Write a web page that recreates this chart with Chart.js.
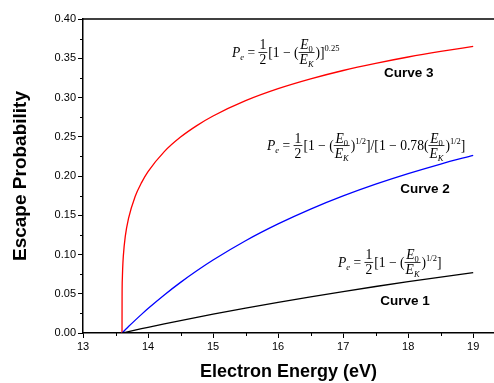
<!DOCTYPE html>
<html>
<head>
<meta charset="utf-8">
<script src="https://cdn.jsdelivr.net/npm/chart.js@4.4.0/dist/chart.umd.min.js"></script>
<style>
  html, body { margin: 0; padding: 0; background: #fff; }
  #wrap { width: 494px; height: 383px; }
</style>
</head>
<body>
<div id="wrap"><canvas id="canvas"></canvas></div>
<script>
// electron energy (eV)
var energy = [13.6, 13.601, 13.605, 13.61, 13.62, 13.65, 13.7, 13.8, 13.9, 14, 14.25, 14.5, 14.75, 15, 15.5, 16, 16.5, 17, 17.5, 18, 18.5, 19];
var curve1 = [0, 0.00002, 0.00009, 0.00018, 0.00037, 0.00092, 0.00183, 0.00363, 0.00543, 0.0072, 0.01154, 0.01577, 0.01989, 0.02391, 0.03165, 0.03902, 0.04606, 0.05279, 0.05922, 0.06538, 0.0713, 0.07698];
var curve2 = [0, 0.00008, 0.00042, 0.00084, 0.00167, 0.00414, 0.00821, 0.01609, 0.02375, 0.03114, 0.04847, 0.06448, 0.07922, 0.09293, 0.1175, 0.13892, 0.15782, 0.1746, 0.18958, 0.20304, 0.21526, 0.22635];
var curve3 = [0, 0.0463, 0.0692, 0.0823, 0.0979, 0.123, 0.1461, 0.1735, 0.1916, 0.2056, 0.2311, 0.2496, 0.2642, 0.2764, 0.2959, 0.3112, 0.3237, 0.3344, 0.3435, 0.3516, 0.3587, 0.3651];
var seriesNames = ["Curve 1", "Curve 2", "Curve 3"];
var xTicks = [13, 14, 15, 16, 17, 18, 19];
var yTicks = [0, 0.05, 0.1, 0.15, 0.2, 0.25, 0.3, 0.35, 0.4];

function pts(ys) {
    return energy.map(function(e, i) { return { x: e, y: ys[i] }; });
}

var SERIF = '"Liberation Serif", "Times New Roman", serif';
var SANS = '"Liberation Sans", Arial, sans-serif';

// pieces of the formulas
function P() { return [{ s: 'P', i: true }, { sub: 'e', i: true }, { s: ' = ' }, { n: [{ s: '1' }], d: [{ s: '2' }] }]; }
function EF() { return { n: [{ s: 'E', i: true }, { sub: '0' }], d: [{ s: 'E', i: true }, { sub: 'K', i: true }] }; }

var formulas = [
    { x: 16.92, y: 0.0841, parts: P().concat([{ s: '[1 \u2212 (' }, EF(), { s: ')' }, { sup: '1/2' }, { s: ']' }]) },
    { x: 15.83, y: 0.2331, parts: P().concat([{ s: '[1 \u2212 (' }, EF(), { s: ')' }, { sup: '1/2' }, { s: ']/[1 \u2212 0.78(' }, EF(), { s: ')' }, { sup: '1/2' }, { s: ']' }]) },
    { x: 15.29, y: 0.3516, parts: P().concat([{ s: '[1 \u2212 (' }, EF(), { s: ')]' }, { sup: '0.25' }]) }
];
var labelPos = [{ x: 17.57, y: 0.0357 }, { x: 17.88, y: 0.1783 }, { x: 17.63, y: 0.326 }];

var FS = 13.6;
function font(p, size) { return (p.i ? 'italic ' : '') + size + 'px ' + SERIF; }
function drawParts(ctx, parts, x, y, dry) {
    var w = 0;
    parts.forEach(function(p) {
        if (p.n) {
            var wn = drawParts(ctx, p.n, 0, 0, true), wd = drawParts(ctx, p.d, 0, 0, true);
            var fw = Math.max(wn, wd) + 2;
            if (!dry) {
                drawParts(ctx, p.n, x + w + (fw - wn) / 2, y - 7.5, false);
                drawParts(ctx, p.d, x + w + (fw - wd) / 2, y + 7.5, false);
                ctx.beginPath();
                ctx.moveTo(x + w, y - 4.5);
                ctx.lineTo(x + w + fw, y - 4.5);
                ctx.lineWidth = 0.8;
                ctx.stroke();
            }
            w += fw + 1;
            return;
        }
        var size = FS, dy = 0, s = p.s;
        if (p.sub !== undefined) { size = 8.5; dy = 3; s = p.sub; }
        if (p.sup !== undefined) { size = 8.5; dy = -6; s = p.sup; }
        ctx.font = font(p, size);
        if (!dry) ctx.fillText(s, x + w, y + dy);
        w += ctx.measureText(s).width;
    });
    return w;
}

var decor = {
    id: 'decor',
    afterDraw: function(chart) {
        var ctx = chart.ctx, xs = chart.scales.x, ys = chart.scales.y, a = chart.chartArea;
        ctx.save();
        ctx.strokeStyle = '#000';
        ctx.fillStyle = '#000';
        // top frame line
        ctx.lineWidth = 1.5;
        ctx.beginPath();
        ctx.moveTo(a.left, a.top);
        ctx.lineTo(a.right, a.top);
        ctx.stroke();
        // minor ticks
        ctx.lineWidth = 1;
        ctx.beginPath();
        for (var v = 13.5; v < 19.3; v += 1) {
            var px = Math.round(xs.getPixelForValue(v)) + 0.5;
            ctx.moveTo(px, a.bottom);
            ctx.lineTo(px, a.bottom + 3);
        }
        for (var k = 0; k < 8; k++) {
            var py = Math.round(ys.getPixelForValue(0.025 + k * 0.05)) + 0.5;
            ctx.moveTo(a.left, py);
            ctx.lineTo(a.left - 3, py);
        }
        ctx.stroke();
        ctx.textBaseline = 'alphabetic';
        ctx.textAlign = 'left';
        formulas.forEach(function(f) {
            drawParts(ctx, f.parts, xs.getPixelForValue(f.x), ys.getPixelForValue(f.y), false);
        });
        ctx.font = 'bold 13.5px ' + SANS;
        seriesNames.forEach(function(n, i) {
            ctx.fillText(n, xs.getPixelForValue(labelPos[i].x), ys.getPixelForValue(labelPos[i].y));
        });
        ctx.restore();
    }
};

var config = {
    type: 'line',
    data: {
        datasets: [
            { label: seriesNames[0], data: pts(curve1), borderColor: '#000000' },
            { label: seriesNames[1], data: pts(curve2), borderColor: '#0000ff' },
            { label: seriesNames[2], data: pts(curve3), borderColor: '#ff0000' }
        ]
    },
    options: {
        responsive: true,
        maintainAspectRatio: false,
        animation: false,
        layout: { padding: { top: 19, right: 0, left: 0, bottom: 0 } },
        elements: {
            point: { radius: 0 },
            line: { borderWidth: 1.3, cubicInterpolationMode: 'monotone', fill: false }
        },
        plugins: { legend: { display: false }, tooltip: { enabled: false } },
        scales: {
            x: {
                type: 'linear',
                min: 13,
                max: 19.32,
                afterBuildTicks: function(s) { s.ticks = xTicks.map(function(v) { return { value: v }; }); },
                afterFit: function(s) { s.height = 50; },
                border: { color: '#000', width: 1.5 },
                grid: { drawOnChartArea: false, color: '#000', tickLength: 5, lineWidth: 1 },
                ticks: { color: '#000', font: { family: SANS, size: 11 }, padding: 2, maxRotation: 0 },
                title: { display: true, text: 'Electron Energy (eV)', color: '#000', font: { family: SANS, size: 18, weight: 'bold' }, padding: { top: 0, bottom: 0 } }
            },
            y: {
                min: 0,
                max: 0.4,
                afterBuildTicks: function(s) { s.ticks = yTicks.map(function(v) { return { value: v }; }); },
                afterFit: function(s) { s.width = 83; },
                border: { color: '#000', width: 1.5 },
                grid: { drawOnChartArea: false, color: '#000', tickLength: 5, lineWidth: 1 },
                ticks: { color: '#000', font: { family: SANS, size: 11 }, padding: 2, callback: function(v) { return v.toFixed(2); } },
                title: { display: true, text: 'Escape Probability', color: '#000', font: { family: SANS, size: 19, weight: 'bold' }, padding: { top: 9, bottom: 0 } }
            }
        }
    },
    plugins: [decor]
};

window.onload = function() {
    window.myChart = new Chart(document.getElementById("canvas"), config);
};
</script>
</body>
</html>
